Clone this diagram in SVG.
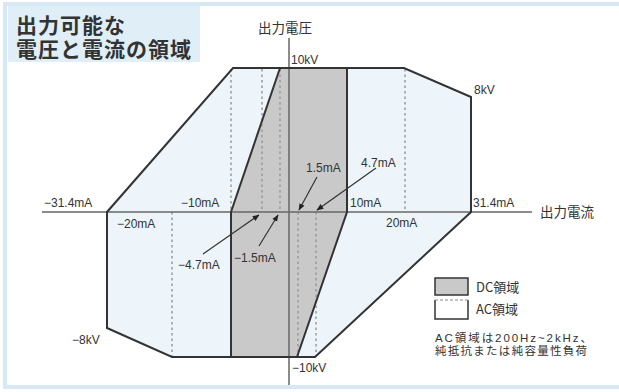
<svg xmlns="http://www.w3.org/2000/svg" width="619" height="392" viewBox="0 0 619 392">
<style>
.t{font-family:"Liberation Sans","Noto Sans CJK JP",sans-serif;fill:#333;font-size:12px}
.j{font-family:"Noto Sans CJK JP","Liberation Sans",sans-serif;fill:#333}
.k{font-family:"Liberation Sans","Noto Sans CJK JP",sans-serif;fill:#333}
.ol{fill:none;stroke:#333;stroke-width:2;stroke-linejoin:miter}
.ds{fill:none;stroke:#999;stroke-width:1.5;stroke-dasharray:2.5 3}
.ax{stroke:#666;stroke-width:1.5}
.ar{stroke:#333;stroke-width:1.2;fill:none;marker-end:url(#ah)}
</style>
<defs>
<marker id="ah" viewBox="0 0 10 10" refX="9" refY="5" markerWidth="7" markerHeight="7" orient="auto" markerUnits="userSpaceOnUse">
<path d="M0,1 L10,5 L0,9 z" fill="#222"/>
</marker>
</defs>
<rect x="0" y="0" width="619" height="392" fill="#fff"/>
<rect x="5" y="4" width="620" height="383" fill="none" stroke="#d6e8f3" stroke-width="4"/>
<g id="title">
<rect x="8" y="6" width="192" height="56" fill="#e0eef8"/>
<text class="k" x="16" y="33" font-size="21" font-weight="bold" letter-spacing="1" fill="#3a3a3a">出力可能な</text>
<text class="k" x="16" y="57" font-size="21" font-weight="bold" letter-spacing="1" fill="#3a3a3a">電圧と電流の領域</text>
</g>
<g id="ac-region">
<polygon points="233,68 404,68 471,97 471,212 315,357 172,357 107,328 107,212" fill="#eef5fa"/>
</g>
<g id="dc-region">
<polygon points="280,68 347,68 347,212 297,357 231,357 231,212" fill="#c9c9c9"/>
</g>
<g id="dashed">
<line class="ds" x1="231" y1="69" x2="231" y2="212"/>
<line class="ds" x1="262" y1="69" x2="262" y2="212"/>
<line class="ds" x1="280" y1="69" x2="280" y2="212"/>
<line class="ds" x1="405" y1="69" x2="405" y2="212"/>
<line class="ds" x1="172" y1="212" x2="172" y2="356"/>
<line class="ds" x1="298" y1="212" x2="298" y2="356"/>
<line class="ds" x1="316" y1="212" x2="316" y2="356"/>
</g>
<g id="axes">
<line class="ax" x1="42" y1="212" x2="532" y2="212"/>
<line class="ax" x1="289" y1="38" x2="289" y2="385"/>
</g>
<g id="outlines">
<polyline class="ol" points="231,212 280,68"/>
<polyline class="ol" points="231,212 231,357"/>
<polyline class="ol" points="347,68 347,212 297,357"/>
<polygon class="ol" points="233,68 404,68 471,97 471,212 315,357 172,357 107,328 107,212"/>
</g>
<g id="connectors">
<line class="ar" x1="317" y1="177" x2="299" y2="210"/>
<line class="ar" x1="376" y1="168" x2="317" y2="210"/>
<line class="ar" x1="203" y1="254" x2="259" y2="215"/>
<line class="ar" x1="259" y1="246" x2="278" y2="215"/>
</g>
<g id="labels">
<text class="j" x="258" y="33" font-size="13.5" fill="#444">出力電圧</text>
<text class="j" x="540" y="217" font-size="13.5">出力電流</text>
<text class="t" x="291" y="64">10kV</text>
<text class="t" x="474" y="94">8kV</text>
<text class="t" x="44" y="207">−31.4mA</text>
<text class="t" x="181" y="207">−10mA</text>
<text class="t" x="117" y="228">−20mA</text>
<text class="t" x="178" y="269">−4.7mA</text>
<text class="t" x="234" y="262">−1.5mA</text>
<text class="t" x="306" y="172">1.5mA</text>
<text class="t" x="361" y="167">4.7mA</text>
<text class="t" x="350" y="207">10mA</text>
<text class="t" x="386" y="227">20mA</text>
<text class="t" x="473" y="207">31.4mA</text>
<text class="t" x="72" y="344">−8kV</text>
<text class="t" x="292" y="372">−10kV</text>
</g>
<g id="legend">
<rect x="435" y="278" width="33" height="17" fill="#c9c9c9" stroke="#333" stroke-width="1.5"/>
<text class="j" x="476" y="292" font-size="13">DC領域</text>
<rect x="435" y="300" width="33" height="19" fill="#fff" stroke="none"/>
<polyline points="435,300 435,319 468,319 468,300" fill="none" stroke="#333" stroke-width="1.5"/>
<line x1="435" y1="300" x2="468" y2="300" stroke="#888" stroke-width="1.2" stroke-dasharray="3 2"/>
<text class="j" x="476" y="314" font-size="13">AC領域</text>
<text class="k" x="435" y="342" font-size="11.5" textLength="157" lengthAdjust="spacing">AC領域は200Hz~2kHz、</text>
<text class="k" x="435" y="355" font-size="11.5" textLength="152" lengthAdjust="spacing">純抵抗または純容量性負荷</text>
</g>
</svg>
